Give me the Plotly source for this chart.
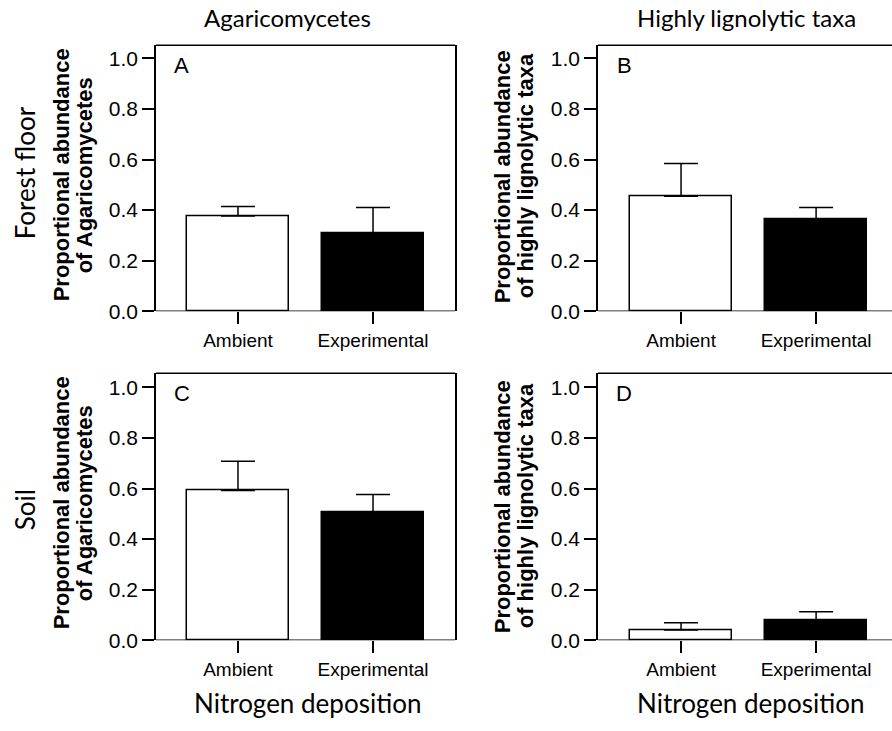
import plotly.graph_objects as go

# Treatment groups and per-panel means with upper error (SE)
categories = ["Ambient", "Experimental"]

agar_forest = [0.377, 0.308]
agar_forest_err = [0.037, 0.102]
lign_forest = [0.455, 0.363]
lign_forest_err = [0.129, 0.047]
agar_soil = [0.592, 0.505]
agar_soil_err = [0.116, 0.072]
lign_soil = [0.040, 0.078]
lign_soil_err = [0.029, 0.035]

bar_fill = ["white", "black"]
y_ticks = [0.0, 0.2, 0.4, 0.6, 0.8, 1.0]

W, H = 892, 731


def px(x):
    return x / W


def py(y):
    return 1 - y / H


ARIAL = "Arial, Liberation Sans, sans-serif"
CAL = "Lato, Open Sans, sans-serif"

fig = go.Figure()

panels = [
    # (values, errors, xaxis id, yaxis id)
    (agar_forest, agar_forest_err, "x", "y"),
    (lign_forest, lign_forest_err, "x2", "y2"),
    (agar_soil, agar_soil_err, "x3", "y3"),
    (lign_soil, lign_soil_err, "x4", "y4"),
]

for vals, errs, xa, ya in panels:
    fig.add_trace(go.Bar(
        x=categories, y=vals, width=0.75,
        marker=dict(color=bar_fill, line=dict(color="black", width=1.5)),
        error_y=dict(type="data", symmetric=False, array=errs,
                     arrayminus=[0, 0], color="black", thickness=1.5, width=17),
        xaxis=xa, yaxis=ya, showlegend=False, hoverinfo="skip",
    ))

col_dom = [[px(156), px(455)], [px(598), 1.0]]
col_rng = [[-0.607, 1.607], [-0.615, 1.562]]
row_dom = [[py(316), py(46)], [py(650), py(379)]]
row_rng = [[0, 1.052], [0, 1.056]]

layout = dict(
    width=W, height=H, margin=dict(l=0, r=0, t=0, b=0),
    paper_bgcolor="white", plot_bgcolor="white", bargap=0,
    font=dict(family=ARIAL, color="black"),
)

shapes = []
for i in range(4):
    r, c = divmod(i, 2)
    sx = "" if i == 0 else str(i + 1)
    layout["xaxis" + sx] = dict(
        domain=col_dom[c], range=col_rng[c], type="category",
        anchor="y" + sx, showline=False, ticks="outside", ticklen=12,
        tickwidth=1.5, tickcolor="black", showgrid=False, zeroline=False,
        tickfont=dict(family=ARIAL, size=19, color="black"),
        fixedrange=True,
    )
    layout["yaxis" + sx] = dict(
        domain=row_dom[r], range=row_rng[r], anchor="x" + sx,
        showline=True, linecolor="black", linewidth=1.5,
        mirror=(c == 0), ticks="outside", ticklen=12, tickwidth=1.5,
        tickcolor="black", showgrid=False, zeroline=False,
        tickvals=y_ticks, tickformat=".1f",
        tickfont=dict(family=ARIAL, size=21, color="black"),
        fixedrange=True,
    )
    # baseline at zero and top edge of the frame
    xd = "x" + sx + " domain" if sx else "x domain"
    yd = "y" + sx + " domain" if sx else "y domain"
    shapes.append(dict(type="line", xref=xd, yref="y" + sx, x0=0, x1=1, y0=0, y1=0,
                       line=dict(color="black", width=1.5)))
    shapes.append(dict(type="line", xref=xd, yref=yd, x0=0, x1=1, y0=1, y1=1,
                       line=dict(color="black", width=1.5)))

ann = []
# column headings
ann.append(dict(text="Agaricomycetes", x=px(287), y=py(18), font=dict(family=CAL, size=24)))
ann.append(dict(text="Highly lignolytic taxa", x=px(746), y=py(18), font=dict(family=CAL, size=24)))
# row headings
ann.append(dict(text="Forest floor", x=px(25), y=py(176), textangle=-90, font=dict(family=CAL, size=26)))
ann.append(dict(text="Soil", x=px(25), y=py(518), textangle=-90, font=dict(family=CAL, size=26)))
# y-axis titles, one annotation per line
ytitles = [
    ("Proportional abundance", "of Agaricomycetes", 61, 84, 178),
    ("Proportional abundance", "of highly lignolytic taxa", 502, 525, 179),
    ("Proportional abundance", "of Agaricomycetes", 61, 84, 511),
    ("Proportional abundance", "of highly lignolytic taxa", 502, 525, 514),
]
for l1, l2, x1, x2, yy in ytitles:
    for t, xx in ((l1, x1), (l2, x2)):
        ann.append(dict(text="<b>" + t + "</b>", x=px(xx), y=py(yy), textangle=-90,
                        font=dict(family=ARIAL, size=22)))
# panel letters
for letter, xx, yy in [("A", 172, 67), ("B", 615, 67), ("C", 172, 400), ("D", 614, 400)]:
    ann.append(dict(text=letter, x=px(xx), y=py(yy), xanchor="left",
                    font=dict(family=ARIAL, size=22)))
# x-axis titles
ann.append(dict(text="Nitrogen deposition", x=px(307), y=py(714), font=dict(family=CAL, size=26)))
ann.append(dict(text="Nitrogen deposition", x=px(750), y=py(714), font=dict(family=CAL, size=26)))

for a in ann:
    a.setdefault("xanchor", "center")
    a.setdefault("yanchor", "middle")
    a.update(xref="paper", yref="paper", showarrow=False)
    a["font"].setdefault("color", "black")

layout["annotations"] = ann
layout["shapes"] = shapes
fig.update_layout(**layout)

fig.write_html("out.html")
